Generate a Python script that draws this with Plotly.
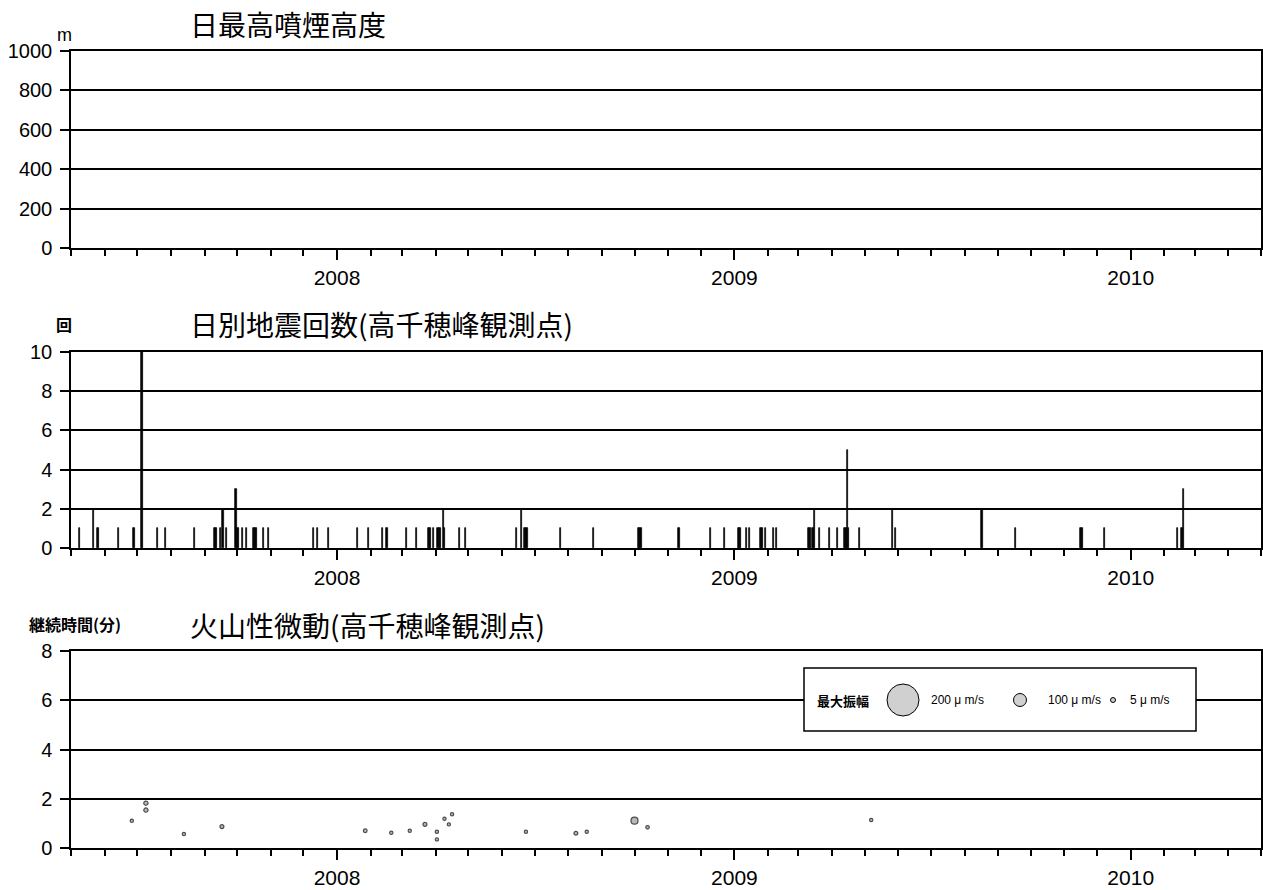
import plotly.graph_objects as go
from plotly.subplots import make_subplots

# ---------------- data ----------------
plume_dates = []          # no plume observations in period
plume_heights = []

quake_dates = [
    "2007-05-09", "2007-05-22", "2007-05-25", "2007-05-26", "2007-06-14", "2007-06-28",
    "2007-07-05", "2007-07-06", "2007-07-20", "2007-07-27", "2007-08-23", "2007-09-10",
    "2007-09-11", "2007-09-12", "2007-09-16", "2007-09-18", "2007-09-21", "2007-09-30",
    "2007-10-01", "2007-10-02", "2007-10-06", "2007-10-10", "2007-10-16", "2007-10-17",
    "2007-10-18", "2007-10-19", "2007-10-25", "2007-10-30", "2007-12-10", "2007-12-14",
    "2007-12-24", "2008-01-20", "2008-01-30", "2008-02-12", "2008-02-16", "2008-03-05",
    "2008-03-14", "2008-03-25", "2008-03-26", "2008-03-27", "2008-03-30", "2008-04-03",
    "2008-04-04", "2008-04-05", "2008-04-08", "2008-04-09", "2008-04-23", "2008-04-28",
    "2008-06-14", "2008-06-19", "2008-06-22", "2008-06-23", "2008-06-24", "2008-07-25",
    "2008-08-24", "2008-10-05", "2008-10-06", "2008-10-07", "2008-11-11", "2008-12-10",
    "2008-12-23", "2009-01-05", "2009-01-06", "2009-01-07", "2009-01-12", "2009-01-15",
    "2009-01-25", "2009-01-26", "2009-01-27", "2009-01-30", "2009-02-06", "2009-02-09",
    "2009-03-10", "2009-03-11", "2009-03-12", "2009-03-14", "2009-03-15", "2009-03-16",
    "2009-03-20", "2009-03-30", "2009-04-06", "2009-04-12", "2009-04-13", "2009-04-14",
    "2009-04-15", "2009-04-16", "2009-04-26", "2009-05-27", "2009-05-29", "2009-08-17",
    "2009-09-17", "2009-11-16", "2009-11-17", "2009-11-18", "2009-12-08", "2010-02-13",
    "2010-02-17", "2010-02-18", "2010-02-19",
]
quake_counts = [
    1, 2, 1, 1, 1, 1,
    10, 10, 1, 1, 1, 1,
    1, 1, 1, 2, 1, 3,
    1, 1, 1, 1, 1, 1,
    1, 1, 1, 1, 1, 1,
    1, 1, 1, 1, 1, 1,
    1, 1, 1, 1, 1, 1,
    1, 1, 2, 1, 1, 1,
    1, 2, 1, 1, 1, 1,
    1, 1, 1, 1, 1, 1,
    1, 1, 1, 1, 1, 1,
    1, 1, 1, 1, 1, 1,
    1, 1, 1, 1, 1, 2,
    1, 1, 1, 1, 1, 1,
    5, 1, 1, 2, 1, 2,
    1, 1, 1, 1, 1, 1,
    1, 1, 3,
]

tremor_dates = [
    "2007-06-26", "2007-07-09", "2007-07-09", "2007-08-13", "2007-09-17",
    "2008-01-27", "2008-02-20", "2008-03-08", "2008-03-22", "2008-04-02",
    "2008-04-02", "2008-04-09", "2008-04-13", "2008-04-16", "2008-06-23",
    "2008-08-08", "2008-08-18", "2008-10-01", "2008-10-13", "2009-05-07",
]
tremor_minutes = [
    1.11, 1.82, 1.54, 0.57, 0.87,
    0.70, 0.62, 0.70, 0.96, 0.66,
    0.35, 1.19, 0.96, 1.37, 0.66,
    0.60, 0.66, 1.11, 0.84, 1.14,
]
tremor_amp = [
    5, 12, 12, 5, 10,
    8, 5, 5, 10, 6,
    5, 5, 5, 5, 5,
    9, 5, 30, 7, 5,
]

legend_amps = ["200 μ m/s", "100 μ m/s", "5 μ m/s"]

# ---------------- layout helpers ----------------
W, H = 1263, 890
L, R = 71, 1261
def px(x):
    return (x - L) / (R - L)
def py(y):
    return 1 - y / H

FONT = "Liberation Sans, Arial, sans-serif"
JFONT = "Noto Sans CJK JP, sans-serif"

fig = make_subplots(rows=3, cols=1, shared_xaxes=False, vertical_spacing=0.05)

fig.add_trace(go.Bar(x=plume_dates, y=plume_heights, marker_color="black"), row=1, col=1)
fig.add_trace(go.Bar(x=quake_dates, y=quake_counts, width=86400000 * 1.0,
                     marker=dict(color="black", line=dict(color="black", width=0.7))),
              row=2, col=1)
sizes = [2.5 + 0.15 * a for a in tremor_amp]
fig.add_trace(go.Scatter(x=tremor_dates, y=tremor_minutes, mode="markers",
                         marker=dict(size=sizes, color="#999999",
                                     line=dict(color="black", width=1.2))),
              row=3, col=1)

domains = [(248, 51), (548, 352), (848, 651)]
ranges = [(0, 1000, 200), (0, 10, 2), (0, 8, 2)]
for i in range(3):
    n = "" if i == 0 else str(i + 1)
    fig.layout["yaxis" + n].update(
        domain=[py(domains[i][0]), py(domains[i][1])],
        range=[ranges[i][0], ranges[i][1]], dtick=ranges[i][2], tick0=0,
        showline=True, linecolor="black", linewidth=1.5, mirror=True,
        showgrid=True, gridcolor="black", gridwidth=1.5,
        ticks="outside", ticklen=9, tickwidth=1.5, tickcolor="black",
        ticklabelstandoff=4,
        tickfont=dict(family=FONT, size=20, color="black"),
        zeroline=False, automargin=False, fixedrange=True,
    )
    fig.layout["xaxis" + n].update(
        type="date", range=["2007-05-01", "2010-05-01"],
        tick0="2008-01-01", dtick="M12", tickformat="%Y",
        showline=True, linecolor="black", linewidth=1.5, mirror=True,
        showgrid=False,
        ticks="outside", ticklen=10, tickwidth=1.5, tickcolor="black",
        minor=dict(dtick="M1", tick0="2008-01-01", ticks="outside", ticklen=6,
                   tickwidth=1.5, tickcolor="black", showgrid=False),
        tickfont=dict(family=FONT, size=21, color="black"),
        zeroline=False, automargin=False, fixedrange=True,
    )

shapes = []
# legend box in bottom panel
shapes.append(dict(type="rect", xref="paper", yref="paper",
                   x0=px(804), x1=px(1196), y0=py(731), y1=py(668),
                   fillcolor="white", line=dict(color="black", width=1.5), layer="above"))
for cx, d in [(903, 32), (1020, 13), (1113, 5)]:
    shapes.append(dict(type="circle", xref="paper", yref="paper",
                       xsizemode="pixel", ysizemode="pixel",
                       xanchor=px(cx), yanchor=py(700),
                       x0=-d / 2, x1=d / 2, y0=-d / 2, y1=d / 2,
                       fillcolor="#d0d0d0", line=dict(color="black", width=1), layer="above"))

ann = []
def add_text(text, x, y, size, family=JFONT, xanchor="left", bold=False):
    ann.append(dict(text=("<b>%s</b>" % text) if bold else text, x=px(x), y=py(y),
                    xref="paper", yref="paper", xanchor=xanchor, yanchor="middle",
                    showarrow=False, borderpad=0,
                    font=dict(family=family, size=size, color="black")))

add_text("日最高噴煙高度", 189, 24, 28)
add_text("日別地震回数(高千穂峰観測点)", 189, 324, 28)
add_text("火山性微動(高千穂峰観測点)", 189, 625, 28)
add_text("m", 64, 35, 18, family=FONT, xanchor="center")
add_text("回", 64, 324, 16, xanchor="center", bold=True)
add_text("継続時間(分)", 75, 624, 16, xanchor="center", bold=True)
add_text("最大振幅", 843, 700, 13, xanchor="center", bold=True)
add_text(legend_amps[0], 957, 700, 12, family=FONT, xanchor="center")
add_text(legend_amps[1], 1074, 700, 12, family=FONT, xanchor="center")
add_text(legend_amps[2], 1150, 700, 12, family=FONT, xanchor="center")

fig.update_layout(
    width=W, height=H, template="none", showlegend=False,
    margin=dict(l=L, r=W - R, t=0, b=0),
    paper_bgcolor="white", plot_bgcolor="white",
    bargap=0, shapes=shapes, annotations=ann,
)

fig.write_html("out.html",
               config={"displayModeBar": False},
               post_script="document.body.style.margin='0';"
                           "document.body.style.overflow='hidden';")
